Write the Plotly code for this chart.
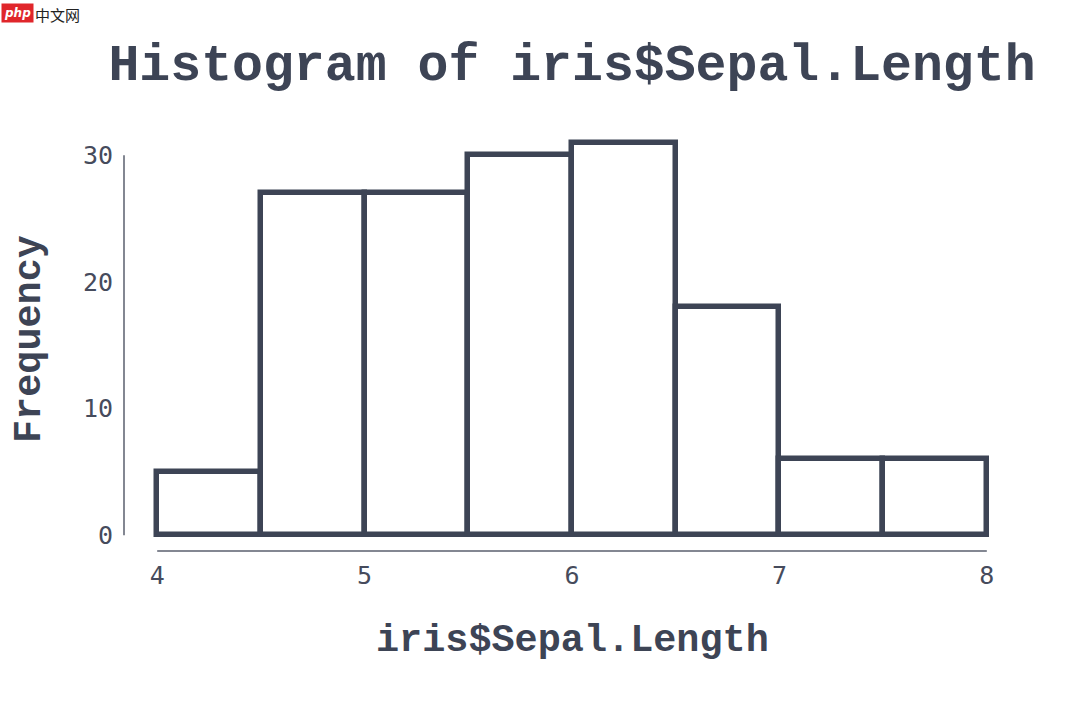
import plotly.graph_objects as go

# Data: histogram of iris$Sepal.Length
bin_edges = [4.0, 4.5, 5.0, 5.5, 6.0, 6.5, 7.0, 7.5, 8.0]
counts = [5, 27, 27, 30, 31, 18, 6, 6]
x_ticks = [4, 5, 6, 7, 8]
y_ticks = [0, 10, 20, 30]

title_text = "Histogram of iris$Sepal.Length"
x_label = "iris$Sepal.Length"
y_label = "Frequency"

ink = "#3d4455"
tick_ink = "#464b5c"
axis_col = "#5a5f6e"
mono_bold = "Courier New, Nimbus Mono PS, FreeMono, Liberation Mono, monospace"
tick_font = "DejaVu Sans Mono"

centers = [(a + b) / 2 for a, b in zip(bin_edges[:-1], bin_edges[1:])]
widths = [b - a for a, b in zip(bin_edges[:-1], bin_edges[1:])]

fig = go.Figure()
fig.add_trace(go.Bar(
    x=centers, y=counts, width=widths,
    marker=dict(color="white", line=dict(color=ink, width=5.5)),
    cliponaxis=False, hoverinfo="x+y",
))

xmin, xmax = min(bin_edges), max(bin_edges)
xpad = (xmax - xmin) * 0.04
ymax = max(counts)
ypad = ymax * 0.04

fig.update_layout(
    width=1080, height=704,
    margin=dict(l=124, r=60, t=127, b=153, autoexpand=False),
    paper_bgcolor="white", plot_bgcolor="white",
    showlegend=False,
    bargap=0,
    title=dict(
        text=title_text, x=0.5, xref="paper", xanchor="center",
        y=1 - 62 / 704, yref="container", yanchor="middle",
        font=dict(family=mono_bold, size=51.5, color=ink, weight="bold"),
    ),
    xaxis=dict(
        range=[xmin - xpad, xmax + xpad], showgrid=False, zeroline=False,
        showline=False, tickvals=x_ticks, ticktext=[str(v) for v in x_ticks],
        ticks="", ticklabelstandoff=7, automargin=False,
        tickfont=dict(family=tick_font, size=25, color=tick_ink),
    ),
    yaxis=dict(
        range=[-ypad, ymax + ypad], showgrid=False, zeroline=False,
        showline=False, tickvals=y_ticks, ticktext=[str(v) for v in y_ticks],
        ticks="", ticklabelstandoff=10, automargin=False,
        tickfont=dict(family=tick_font, size=25, color=tick_ink),
    ),
    shapes=[
        dict(type="line", xref="x", yref="paper", x0=min(x_ticks), x1=max(x_ticks),
             y0=0, y1=0, line=dict(color=axis_col, width=1.5)),
        dict(type="line", xref="paper", yref="y", x0=0, x1=0,
             y0=min(y_ticks), y1=max(y_ticks), line=dict(color=axis_col, width=1.5)),
    ],
    annotations=[
        dict(text=x_label, xref="paper", yref="paper", x=0.5, y=0,
             xanchor="center", yanchor="middle", yshift=-90, showarrow=False,
             font=dict(family=mono_bold, size=38.5, color=ink, weight="bold")),
        dict(text=y_label, xref="paper", yref="paper", x=0, y=0.5,
             xanchor="center", yanchor="middle", xshift=-94, textangle=-90,
             showarrow=False,
             font=dict(family=mono_bold, size=38.5, color=ink, weight="bold")),
        dict(text="<i><b>php</b></i>", xref="paper", yref="paper", x=-124 / 896, y=1,
             xanchor="left", yanchor="top", yshift=127 - 3, xshift=1, showarrow=False,
             bgcolor="#e0262b", borderpad=2,
             font=dict(family="DejaVu Sans", size=12, color="white")),
        dict(text="中文网", xref="paper", yref="paper", x=-124 / 896, y=1,
             xanchor="left", yanchor="top", yshift=127 - 2, xshift=33, showarrow=False,
             font=dict(family="Noto Sans CJK SC", size=15, color="#222222")),
    ],
)

fig.write_html("out.html", config={"displayModeBar": False},
               post_script="document.body.style.margin='0';")
